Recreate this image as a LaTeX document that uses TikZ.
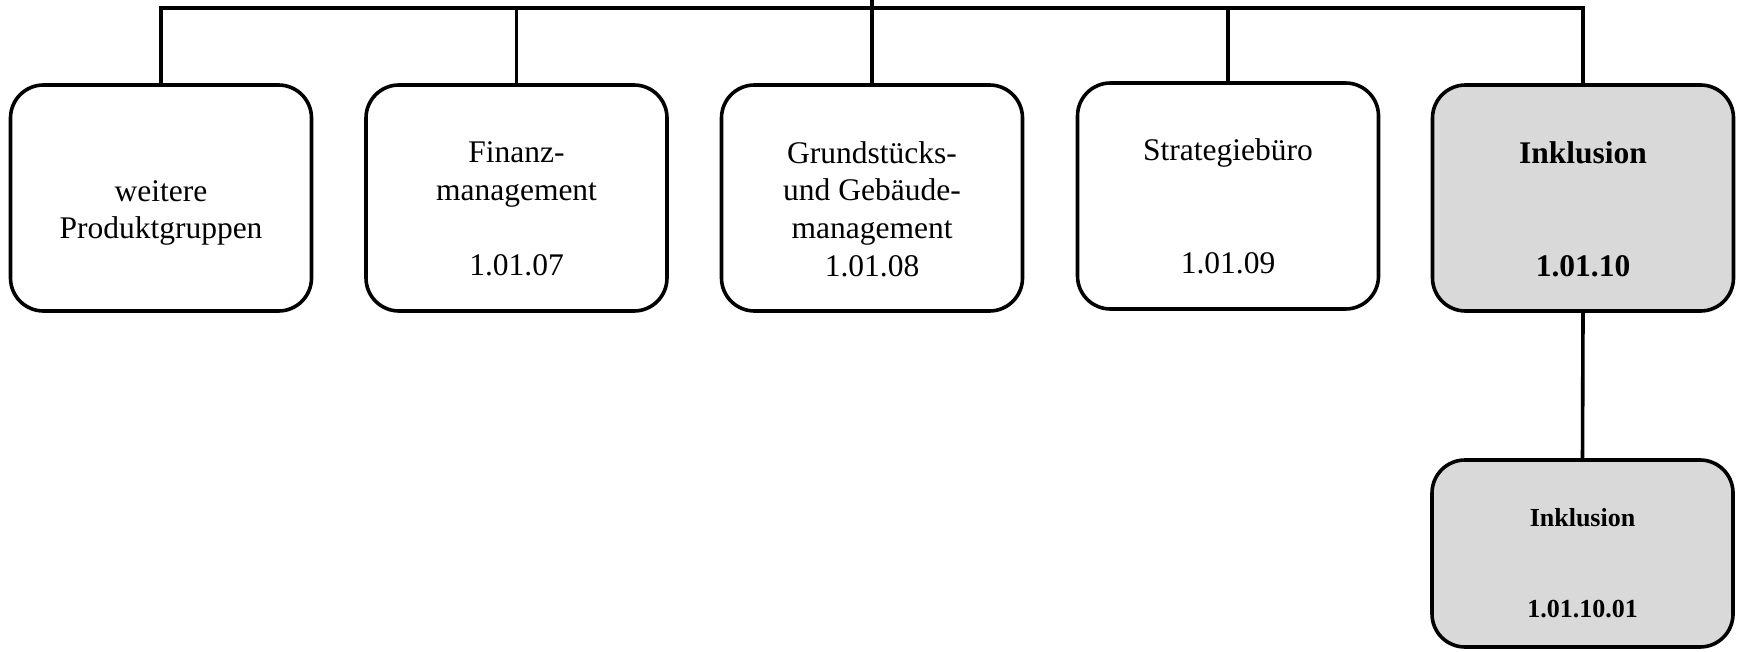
\documentclass[tikz,border=0pt]{standalone}
\usepackage{fontspec}
\setmainfont{Liberation Serif}
\definecolor{boxgray}{HTML}{D9D9D9}
\begin{document}
\begin{tikzpicture}[x=1pt,y=-1pt,
  unit/.style={draw=black, line width=3.6pt, rounded corners=33pt,
    minimum width=301pt, minimum height=226pt, fill=white, inner sep=0pt},
  shaded/.style={fill=boxgray},
  lbl/.style={align=center, inner sep=0pt, font=\fontsize{31.5}{37.8}\selectfont},
  lblsmall/.style={align=center, inner sep=0pt, font=\fontsize{26}{30.4}\selectfont\bfseries},
  link/.style={line width=3.6pt}]
\useasboundingbox (0,0) rectangle (1742,652);

% organisational units
\node[unit] (b1) at (161,198) {};
\node[unit] (b2) at (516.5,198) {};
\node[unit] (b3) at (872,198) {};
\node[unit] (b4) at (1228,196) {};
\node[unit,shaded] (b5) at (1583,198) {};
\node[unit,shaded,minimum height=187pt] (b6) at (1582.5,553.5) {};

% labels
\node[lbl] (t1) at ([yshift=-15pt]b1.center) {weitere\\Produktgruppen};
\node[lbl] (t2) at ([yshift=-11pt]b2.center) {Finanz-\\management\\[37.8pt]1.01.07};
\node[lbl] (t3) at ([yshift=-11pt]b3.center) {Grundstücks-\\und Gebäude-\\management\\1.01.08};
\node[lbl] (t4) at ([yshift=-10pt]b4.center) {Strategiebüro\\[75.6pt]1.01.09};
\node[lbl,font=\fontsize{31.5}{37.8}\selectfont\bfseries] (t5) at ([yshift=-11pt]b5.center) {Inklusion\\[75.6pt]1.01.10};
\node[lblsmall] (t6) at ([yshift=-9.5pt]b6.center) {Inklusion\\[60.8pt]1.01.10.01};

% connectors
\coordinate (bar) at (0,8);
\coordinate (top) at (0,-3);
\draw[link] (b1.north) -- (b1.north |- bar) -- (b5.north |- bar) -- (b5.north);
\draw[link] (b2.north) -- (b2.north |- bar);
\draw[link] (b3.north) -- (b3.north |- top);
\draw[link] (b4.north) -- (b4.north |- bar);
\draw[link] (b5.south) -- (b6.north);
\end{tikzpicture}
\end{document}
